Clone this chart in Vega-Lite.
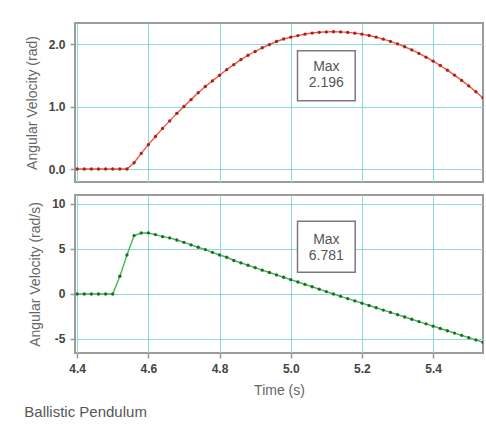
{
  "$schema": "https://vega.github.io/schema/vega-lite/v6.json",
  "padding": {"left": 24, "top": 22, "right": 4, "bottom": 6},
  "background": "white",
  "spacing": 11,
  "datasets": {
    "angle": [
      {"t": 4.40, "v": 0}, {"t": 4.42, "v": 0}, {"t": 4.44, "v": 0}, {"t": 4.46, "v": 0},
      {"t": 4.48, "v": 0}, {"t": 4.50, "v": 0}, {"t": 4.52, "v": 0}, {"t": 4.54, "v": 0},
      {"t": 4.56, "v": 0.10}, {"t": 4.58, "v": 0.25}, {"t": 4.60, "v": 0.39}, {"t": 4.62, "v": 0.52},
      {"t": 4.64, "v": 0.65}, {"t": 4.66, "v": 0.77}, {"t": 4.68, "v": 0.89}, {"t": 4.70, "v": 1.00},
      {"t": 4.72, "v": 1.11}, {"t": 4.74, "v": 1.22}, {"t": 4.76, "v": 1.32}, {"t": 4.78, "v": 1.41},
      {"t": 4.80, "v": 1.50}, {"t": 4.82, "v": 1.59}, {"t": 4.84, "v": 1.67}, {"t": 4.86, "v": 1.75},
      {"t": 4.88, "v": 1.82}, {"t": 4.90, "v": 1.88}, {"t": 4.92, "v": 1.94}, {"t": 4.94, "v": 1.99},
      {"t": 4.96, "v": 2.04}, {"t": 4.98, "v": 2.08}, {"t": 5.00, "v": 2.11}, {"t": 5.02, "v": 2.135},
      {"t": 5.04, "v": 2.158}, {"t": 5.06, "v": 2.175}, {"t": 5.08, "v": 2.187}, {"t": 5.10, "v": 2.194},
      {"t": 5.12, "v": 2.196}, {"t": 5.14, "v": 2.194}, {"t": 5.16, "v": 2.186}, {"t": 5.18, "v": 2.174},
      {"t": 5.20, "v": 2.158}, {"t": 5.22, "v": 2.136}, {"t": 5.24, "v": 2.110}, {"t": 5.26, "v": 2.078},
      {"t": 5.28, "v": 2.042}, {"t": 5.30, "v": 2.002}, {"t": 5.32, "v": 1.956}, {"t": 5.34, "v": 1.906},
      {"t": 5.36, "v": 1.850}, {"t": 5.38, "v": 1.790}, {"t": 5.40, "v": 1.726}, {"t": 5.42, "v": 1.656},
      {"t": 5.44, "v": 1.582}, {"t": 5.46, "v": 1.502}, {"t": 5.48, "v": 1.418}, {"t": 5.50, "v": 1.330},
      {"t": 5.52, "v": 1.236}, {"t": 5.54, "v": 1.138}
    ],
    "vel": [
      {"t": 4.40, "v": 0}, {"t": 4.42, "v": 0}, {"t": 4.44, "v": 0}, {"t": 4.46, "v": 0},
      {"t": 4.48, "v": 0}, {"t": 4.50, "v": 0}, {"t": 4.52, "v": 1.97}, {"t": 4.54, "v": 4.33},
      {"t": 4.56, "v": 6.49}, {"t": 4.58, "v": 6.78}, {"t": 4.60, "v": 6.781}, {"t": 4.62, "v": 6.60},
      {"t": 4.64, "v": 6.37}, {"t": 4.66, "v": 6.23}, {"t": 4.68, "v": 6.00}, {"t": 4.70, "v": 5.74},
      {"t": 4.72, "v": 5.45}, {"t": 4.74, "v": 5.19}, {"t": 4.76, "v": 4.93}, {"t": 4.78, "v": 4.63},
      {"t": 4.80, "v": 4.33}, {"t": 4.82, "v": 4.08}, {"t": 4.84, "v": 3.72}, {"t": 4.86, "v": 3.45},
      {"t": 4.88, "v": 3.19}, {"t": 4.90, "v": 2.92}, {"t": 4.92, "v": 2.65}, {"t": 4.94, "v": 2.39},
      {"t": 4.96, "v": 2.12}, {"t": 4.98, "v": 1.86}, {"t": 5.00, "v": 1.59}, {"t": 5.02, "v": 1.33},
      {"t": 5.04, "v": 1.06}, {"t": 5.06, "v": 0.80}, {"t": 5.08, "v": 0.53}, {"t": 5.10, "v": 0.27},
      {"t": 5.12, "v": 0.00}, {"t": 5.14, "v": -0.26}, {"t": 5.16, "v": -0.51}, {"t": 5.18, "v": -0.77},
      {"t": 5.20, "v": -1.02}, {"t": 5.22, "v": -1.28}, {"t": 5.24, "v": -1.53}, {"t": 5.26, "v": -1.79},
      {"t": 5.28, "v": -2.05}, {"t": 5.30, "v": -2.30}, {"t": 5.32, "v": -2.56}, {"t": 5.34, "v": -2.81},
      {"t": 5.36, "v": -3.07}, {"t": 5.38, "v": -3.32}, {"t": 5.40, "v": -3.58}, {"t": 5.42, "v": -3.84},
      {"t": 5.44, "v": -4.09}, {"t": 5.46, "v": -4.35}, {"t": 5.48, "v": -4.60}, {"t": 5.50, "v": -4.86},
      {"t": 5.52, "v": -5.11}, {"t": 5.54, "v": -5.37}
    ]
  },
  "vconcat": [
    {
      "width": 408,
      "height": 159,
      "layer": [
        {
          "mark": {"type": "rule", "color": "#5a5a5a", "strokeWidth": 2},
          "encoding": {
            "y": {"datum": 0, "type": "quantitative", "scale": {"domain": [-0.208, 2.336], "nice": false, "zero": false},
                  "axis": {"values": [0, 1, 2], "format": ".1f", "title": "Angular Velocity (rad)"}}
          }
        },
        {
          "data": {"name": "angle"},
          "mark": {"type": "line", "color": "#f2553f", "strokeWidth": 1.4, "clip": true},
          "encoding": {
            "x": {"field": "t", "type": "quantitative", "scale": {"domain": [4.394, 5.54], "nice": false, "zero": false},
                  "axis": {"values": [4.4, 4.6, 4.8, 5.0, 5.2, 5.4], "labels": false, "ticks": false, "title": null}},
            "y": {"field": "v", "type": "quantitative"}
          }
        },
        {
          "data": {"name": "angle"},
          "mark": {"type": "point", "filled": true, "color": "#a3241c", "size": 11, "opacity": 1, "clip": true},
          "encoding": {
            "x": {"field": "t", "type": "quantitative"},
            "y": {"field": "v", "type": "quantitative"}
          }
        },
        {
          "data": {"values": [{"t": 5.019, "t2": 5.181, "v": 1.893, "v2": 1.093}]},
          "mark": {"type": "rect", "fill": "white", "stroke": "#7a7a7a", "strokeWidth": 1.5},
          "encoding": {
            "x": {"field": "t", "type": "quantitative"}, "x2": {"field": "t2"},
            "y": {"field": "v", "type": "quantitative"}, "y2": {"field": "v2"}
          }
        },
        {
          "data": {"values": [{"t": 5.10, "v": 1.63, "label": "Max"}, {"t": 5.10, "v": 1.37, "label": "2.196"}]},
          "mark": {"type": "text", "font": "Liberation Sans", "fontSize": 14, "color": "#555"},
          "encoding": {
            "x": {"field": "t", "type": "quantitative"},
            "y": {"field": "v", "type": "quantitative"},
            "text": {"field": "label"}
          }
        }
      ]
    },
    {
      "width": 408,
      "height": 158,
      "layer": [
        {
          "mark": {"type": "rule", "color": "#5a5a5a", "strokeWidth": 2},
          "encoding": {
            "y": {"datum": 0, "type": "quantitative", "scale": {"domain": [-6.56, 11.0], "nice": false, "zero": false},
                  "axis": {"values": [-5, 0, 5, 10], "labelExpr": "'' + datum.value", "title": "Angular Velocity (rad/s)"}}
          }
        },
        {
          "data": {"name": "vel"},
          "mark": {"type": "line", "color": "#3dbb4c", "strokeWidth": 1.4, "clip": true},
          "encoding": {
            "x": {"field": "t", "type": "quantitative", "scale": {"domain": [4.394, 5.54], "nice": false, "zero": false},
                  "axis": {"values": [4.4, 4.6, 4.8, 5.0, 5.2, 5.4], "format": ".1f", "title": "Time (s)"}},
            "y": {"field": "v", "type": "quantitative"}
          }
        },
        {
          "data": {"name": "vel"},
          "mark": {"type": "point", "filled": true, "color": "#1f6a2a", "size": 11, "opacity": 1, "clip": true},
          "encoding": {
            "x": {"field": "t", "type": "quantitative"},
            "y": {"field": "v", "type": "quantitative"}
          }
        },
        {
          "data": {"values": [{"t": 5.019, "t2": 5.181, "v": 8.08, "v2": 2.41}]},
          "mark": {"type": "rect", "fill": "white", "stroke": "#7a7a7a", "strokeWidth": 1.5},
          "encoding": {
            "x": {"field": "t", "type": "quantitative"}, "x2": {"field": "t2"},
            "y": {"field": "v", "type": "quantitative"}, "y2": {"field": "v2"}
          }
        },
        {
          "data": {"values": [{"t": 5.10, "v": 6.0, "label": "Max"}, {"t": 5.10, "v": 4.2, "label": "6.781"}]},
          "mark": {"type": "text", "font": "Liberation Sans", "fontSize": 14, "color": "#555"},
          "encoding": {
            "x": {"field": "t", "type": "quantitative"},
            "y": {"field": "v", "type": "quantitative"},
            "text": {"field": "label"}
          }
        }
      ]
    }
  ],
  "title": {
    "text": "Ballistic Pendulum",
    "orient": "bottom",
    "anchor": "start",
    "frame": "bounds",
    "offset": 7,
    "font": "Liberation Sans",
    "fontSize": 15,
    "fontWeight": "normal",
    "color": "#555"
  },
  "config": {
    "view": {"stroke": "#9c9c9c", "strokeWidth": 2},
    "axis": {
      "grid": true,
      "gridColor": "#8fd8e0",
      "gridOpacity": 1,
      "gridWidth": 1,
      "domain": false,
      "tickColor": "#999",
      "tickSize": 5,
      "tickWidth": 1.5,
      "labelFont": "Liberation Sans",
      "labelFontSize": 12,
      "labelFontWeight": "bold",
      "labelColor": "#444",
      "labelPadding": 5,
      "titleFont": "Liberation Sans",
      "titleFontSize": 14,
      "titleFontWeight": "normal",
      "titleColor": "#666",
      "titlePadding": 9
    }
  }
}
